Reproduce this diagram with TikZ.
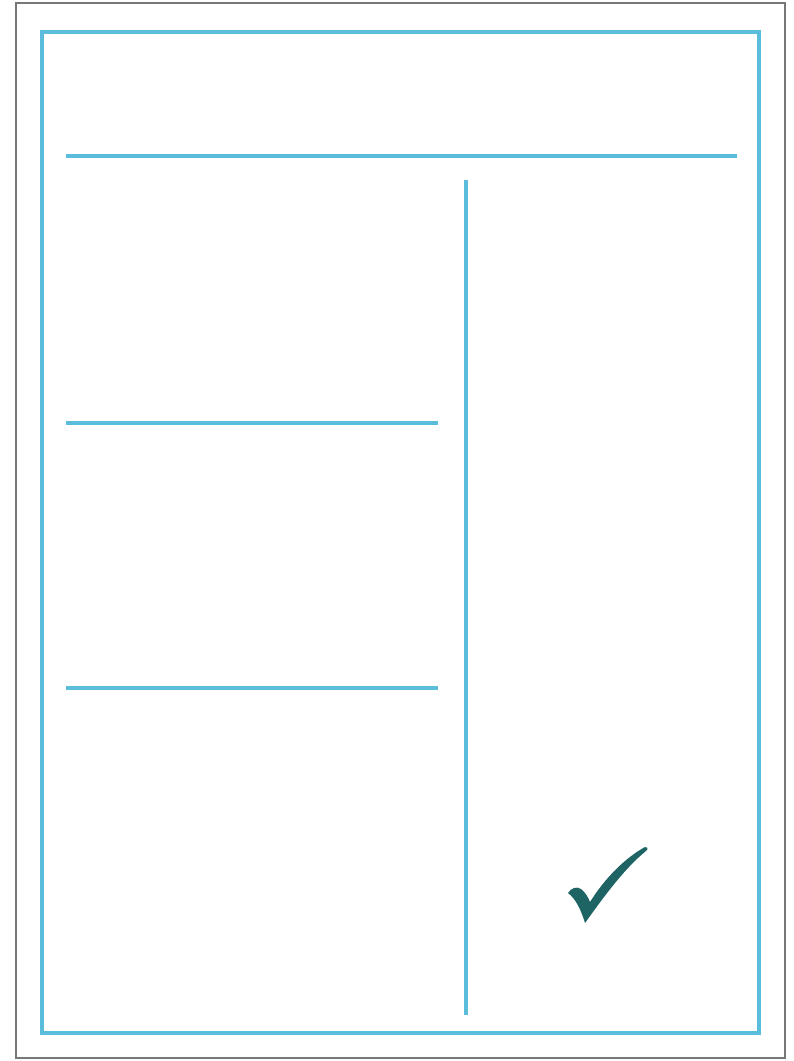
\documentclass[tikz,border=0pt]{standalone}
\usepackage{xcolor}
\usepackage{tikz}
\usetikzlibrary{positioning,calc}
\definecolor{frame}{HTML}{777777}
\definecolor{guide}{HTML}{5BBCDB}
\definecolor{tick}{HTML}{1F6464}
\tikzset{
  sheet/.style={draw=frame, line width=2pt, fill=white},
  margin/.style={draw=guide, line width=3.2pt},
  rule/.style={draw=guide, line width=3.2pt},
  checkmark/.style={fill=tick}
}
\begin{document}
\begin{tikzpicture}[x=1pt, y=-1pt]
  \useasboundingbox (0,0) rectangle (794,1061);
  \fill[white] (0,0) rectangle (794,1061);
  \draw[sheet] (16,3) rectangle (785,1058);
  \draw[margin] (42,32) rectangle (759,1033);

  % header, columns and sections
  \coordinate (headL) at (66,156);
  \coordinate (headR) at (737,156);
  \coordinate (colT) at (466,180);
  \coordinate (colB) at (466,1015);
  \coordinate (secAL) at (66,423);
  \coordinate (secAR) at (438,423);
  \coordinate (secBL) at (66,688);
  \coordinate (secBR) at (438,688);

  \draw[rule] (headL) -- (headR);
  \draw[rule] (colT) -- (colB);
  \draw[rule] (secAL) -- (secAR);
  \draw[rule] (secBL) -- (secBR);

  % tick mark
  \fill[checkmark] (585,923) .. controls (581,910) and (576,899) .. (568,893)
    .. controls (571,888) and (577,886) .. (581,889)
    .. controls (585,892) and (588,897) .. (590,902)
    .. controls (605,878) and (625,858) .. (645,847)
    .. controls (647,846) and (649,849) .. (646,851)
    .. controls (625,868) and (605,895) .. (585,923) -- cycle;
\end{tikzpicture}
\end{document}
